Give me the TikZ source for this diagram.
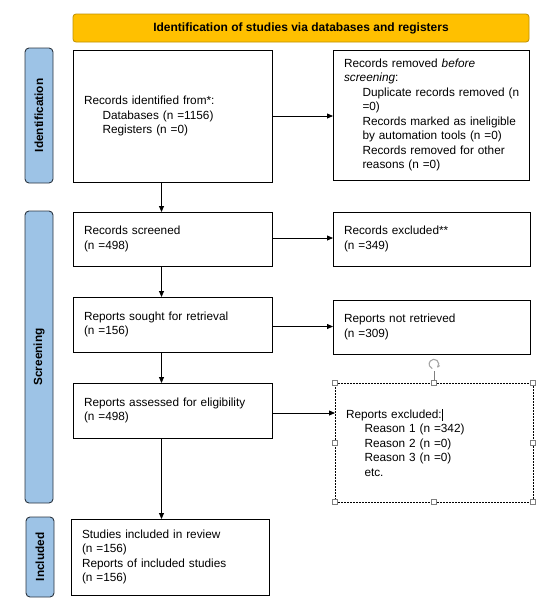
\documentclass[tikz,border=0pt]{standalone}
\usepackage{fontspec}
\setmainfont{Liberation Sans}
\usetikzlibrary{arrows.meta,calc}
\definecolor{titlefill}{HTML}{FFC000}
\definecolor{titledraw}{HTML}{BF9000}
\definecolor{sidefill}{HTML}{9DC3E6}
\definecolor{sidedraw}{HTML}{2B3540}
\definecolor{handlegray}{HTML}{7F7F7F}
\newcommand\boxfont{\fontsize{11.8}{14.5}\selectfont}
\newcommand\ind{\hspace*{18.5pt}}
\hfuzz=20pt
\begin{document}
\begin{tikzpicture}[x=1pt,y=-1pt,
  box/.style={draw, line width=0.8pt, fill=white, align=left, inner xsep=11pt, inner ysep=0pt,
    anchor=north west, outer sep=0pt, font=\boxfont},
  titlebox/.style={draw=titledraw, fill=titlefill, line width=0.8pt, rounded corners=3pt,
    minimum width=456pt, minimum height=28pt, anchor=north west, outer sep=0pt,
    font=\fontsize{12}{14}\selectfont\bfseries},
  side/.style={draw=sidedraw, fill=sidefill, line width=0.9pt, rounded corners=4pt, rotate=90,
    minimum height=28pt, inner sep=0pt, outer sep=0pt, font=\fontsize{11.8}{14}\selectfont\bfseries},
  arr/.style={line width=0.8pt, -{Triangle[length=6pt,width=5pt]}},
  handle/.style={draw=handlegray, fill=white, line width=0.5pt, minimum size=5pt, inner sep=0pt, outer sep=0pt},
]
\useasboundingbox (0,0) rectangle (543,606);

% title
\node[titlebox] (title) at (73,14) {Identification of studies via databases and registers};

% side labels
\node[side, minimum width=135pt] (sideid) at (39,115.5) {Identification};
\node[side, minimum width=292pt] (sidescr) at (39,357) {Screening};
\node[side, minimum width=80pt] (sideinc) at (40,557) {Included};

% left column
\node[box, text width=177pt, minimum height=132pt] (ident) at (73,50)
  {Records identified from*:\\\ind Databases (n =1156)\\\ind Registers (n =0)};
\node[box, text width=177pt, minimum height=54pt] (scr) at (73,212)
  {Records screened\\(n =498)};
\node[box, text width=177pt, minimum height=55pt] (sought) at (73,297)
  {Reports sought for retrieval\\(n =156)};
\node[box, text width=177pt, minimum height=55pt] (assess) at (73,383)
  {Reports assessed for eligibility\\(n =498)};
\node[box, text width=176pt, minimum height=76pt] (incl) at (71,519)
  {Studies included in review\\(n =156)\\Reports of included studies\\(n =156)};

% right column
\node[box, text width=174pt, minimum height=130pt] (removed) at (333,50)
  {Records removed \textit{before}\\\textit{screening}:\\\ind\mbox{Duplicate records removed (n}\\\ind =0)\\\ind\mbox{Records marked as ineligible}\\\ind\mbox{by automation tools (n =0)}\\\ind\mbox{Records removed for other}\\\ind reasons (n =0)};
\node[box, text width=175pt, minimum height=54pt] (recexcl) at (333,212)
  {Records excluded**\\(n =349)};
\node[box, text width=175pt, minimum height=54pt] (notret) at (333,300)
  {Reports not retrieved\\(n =309)};
\node[box, line width=0.6pt, dash pattern=on 2pt off 1pt, text width=176pt, minimum height=119pt] (repexcl) at (335,383)
  {Reports excluded:\rule[-2.5pt]{0.6pt}{12pt}\\\ind Reason 1 (n =342)\\\ind Reason 2 (n =0)\\\ind Reason 3 (n =0)\\\ind etc.};

% selection handles
\coordinate (rothandle) at ($(repexcl.north)+(0,-12)$);
\draw[handlegray, line width=0.5pt] (repexcl.north) -- (rothandle);
\draw[handlegray!70, line width=1.1pt] ($(rothandle)+(3.6,-3.8)$) arc[start angle=-40, end angle=250, radius=4.8pt];
\draw[handlegray!70, line width=0.9pt] ($(rothandle)+(3.6,-3.8)$) -- ++(2.2,-1.6);
\foreach \a in {north west,north,north east,west,east,south west,south,south east}
  \node[handle] (h-\a) at (repexcl.\a) {};

% arrows
\coordinate (colx) at (161.5,0);
\draw[arr] (ident.east) -- (ident.east -| removed.west);
\draw[arr] (ident.south -| colx) -- (scr.north -| colx);
\draw[arr] ($(scr.east)+(0,-1)$) -- ($(scr.east -| recexcl.west)+(0,-1)$);
\draw[arr] (scr.south -| colx) -- (sought.north -| colx);
\draw[arr] ($(sought.east)+(0,2)$) -- ($(sought.east -| notret.west)+(0,2)$);
\draw[arr] (sought.south -| colx) -- (assess.north -| colx);
\draw[arr] ($(assess.east)+(0,2.5)$) -- ($(assess.east -| repexcl.west)+(0,2.5)$);
\draw[arr] (assess.south -| colx) -- (incl.north -| colx);
\end{tikzpicture}
\end{document}
